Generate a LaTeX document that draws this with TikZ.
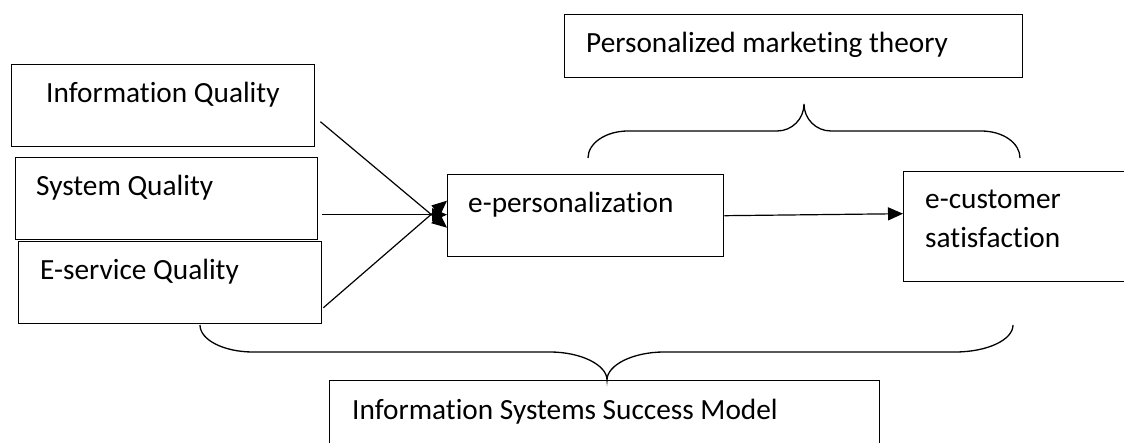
\documentclass[tikz,border=0pt]{standalone}
\usepackage{fontspec}
\setmainfont{Carlito}[Ligatures=NoCommon]
\usetikzlibrary{calc,arrows.meta}
\begin{document}
\begin{tikzpicture}[x=1pt,y=-1pt,
  box/.style={draw, line width=1.4pt, inner sep=0pt, anchor=north west},
  lbl/.style={inner sep=0pt, anchor=base west, align=left,
              font=\fontsize{29.3}{39}\selectfont},
  link/.style={line width=1.2pt, -{Triangle[length=15pt,width=13pt]}},
  brace/.style={line width=1.3pt}]
\useasboundingbox (0,0) rectangle (1124,443);
\clip (0,0) rectangle (1124,443);
\fill[white] (0,0) rectangle (1124,443);

% quality dimensions (left column)
\node[box, minimum width=303pt, minimum height=82pt] (iq) at (11,64) {};
\node[box, minimum width=302pt, minimum height=82pt] (sq) at (15,157) {};
\node[box, minimum width=303pt, minimum height=82pt] (es) at (18,241) {};
\node[lbl] (iqt) at (46,103) {Information Quality};
\node[lbl] (sqt) at (36,196) {System Quality};
\node[lbl] (est) at (40,280) {E-service Quality};

% mediator and outcome
\node[box, minimum width=276pt, minimum height=82pt] (ep) at (447,174) {};
\node[lbl] (ept) at (468,213) {e-personalization};
\node[box, minimum width=240pt, minimum height=110pt] (ec) at (903,171) {};
% base anchor of a two-line label sits on its last line
\node[lbl] (ect) at (925,248) {e-customer\\satisfaction};

% theory boxes
\node[box, minimum width=458pt, minimum height=63pt] (pmt) at (564,14) {};
\node[lbl] (pmtt) at (586,53) {Personalized marketing theory};
\node[box, minimum width=550pt, minimum height=75pt] (issm) at (329,380) {};
\node[lbl] (issmt) at (352,419) {Information Systems Success Model};

% paths
\draw[link] ($(iq.east)+(5,16)$) -- ($(ep.west)+(0,12)$);
\draw[link] ($(sq.east)+(4,16)$) -- ($(ep.west)+(0,-1)$);
\draw[link] ($(es.east)+(1,25)$) -- ($(ep.west)+(0,-15)$);
\draw[link] (ep.east) -- ($(ec.west)+(0,-13)$);

% upper brace over e-personalization and e-customer satisfaction
\draw[brace] (588,158) .. controls (588,143) and (606,131) .. (628,131)
  -- (777,131) .. controls (792,131) and (804,119) .. (804,104)
  .. controls (804,119) and (816,131) .. (831,131)
  -- (981,131) .. controls (1003,131) and (1020,143) .. (1020,158);

% lower brace under the whole model
\draw[brace] (200,325) .. controls (200,340) and (224,352) .. (253,352)
  -- (550,352) .. controls (581,352) and (607,365) .. (607,380)
  .. controls (607,365) and (633,352) .. (664,352)
  -- (955,352) .. controls (987,352) and (1013,340) .. (1013,325);
\end{tikzpicture}
\end{document}
